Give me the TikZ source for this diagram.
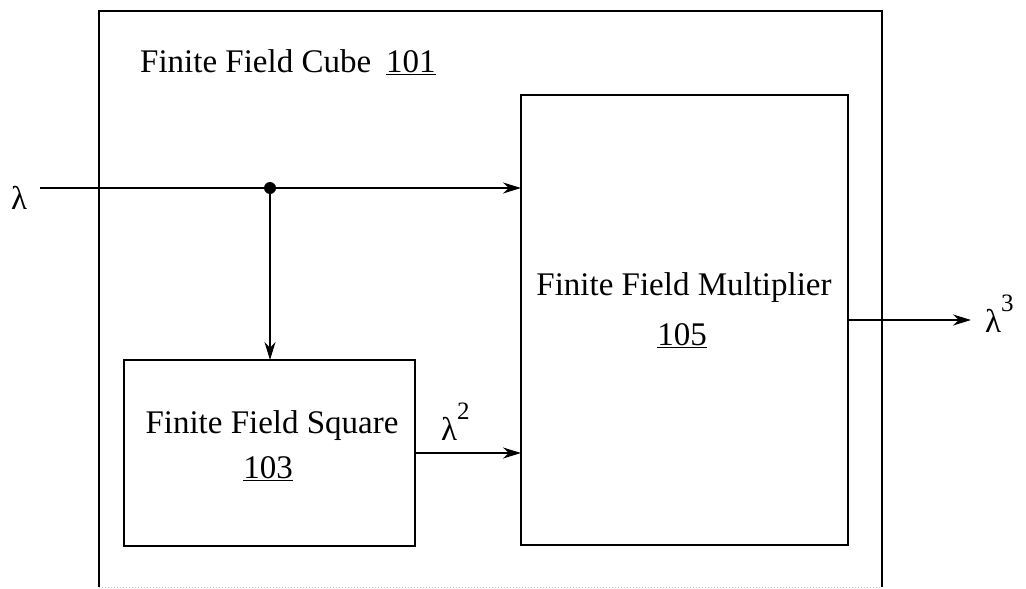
\documentclass[tikz,border=0pt]{standalone}
\usepackage{fontspec}
\setmainfont{Liberation Serif}
\usetikzlibrary{arrows.meta}
\newcommand{\supnum}[1]{\raisebox{0.62em}{\fontsize{25}{25}\selectfont #1}}
\begin{document}
\begin{tikzpicture}[x=1pt,y=-1pt,
  box/.style={draw, line width=2pt, inner sep=0pt, outer sep=0pt},
  lbl/.style={font=\fontsize{33}{38}\selectfont, inner sep=0pt},
  conn/.style={line width=2pt, -{Stealth[length=18pt,width=11pt]}}]
\useasboundingbox (0,0) rectangle (1026,589);
% outer box (bottom edge falls at the image border)
\node[inner sep=0pt, outer sep=0pt, minimum width=783pt, minimum height=576pt, anchor=north west] (cube) at (99,11) {};
\draw[line width=2pt] (cube.south west) -- (cube.north west) -- (cube.north east) -- (cube.south east);
\draw[line width=1pt, black!25, dotted] (cube.south west) -- (cube.south east);
\node[lbl, anchor=base west] (title) at (140,72) {Finite Field Cube\hspace{15pt}\underline{101}};
% multiplier
\node[box, minimum width=327pt, minimum height=450pt, anchor=north west] (mult) at (521,95) {};
\node[lbl, anchor=base] (multname) at (684,295) {Finite Field Multiplier};
\node[lbl, anchor=base] (multnum) at (682,345) {\underline{105}};
% square
\node[box, minimum width=291pt, minimum height=186pt, anchor=north west] (square) at (124,360) {};
\node[lbl, anchor=base] (sqname) at (272,433) {Finite Field Square};
\node[lbl, anchor=base] (sqnum) at (268,478) {\underline{103}};
% connectors
\coordinate (in) at (40,188);
\coordinate (split) at (270,188);
\coordinate (out) at (971,320);
\draw[conn] (in) -- (split -| mult.west);
\draw[conn] (split) -- (split |- square.north);
\fill (split) circle (6pt);
\draw[conn] (square.east) -- (square.east -| mult.west);
\draw[conn] (mult.east) -- (out);
% labels
\node[lbl, anchor=base west] (lin) at (11,209) {λ};
\node[lbl, anchor=base west] (lsq) at (441,440) {λ\supnum{2}};
\node[lbl, anchor=base west] (lcube) at (985,332) {λ\supnum{3}};
\end{tikzpicture}
\end{document}
